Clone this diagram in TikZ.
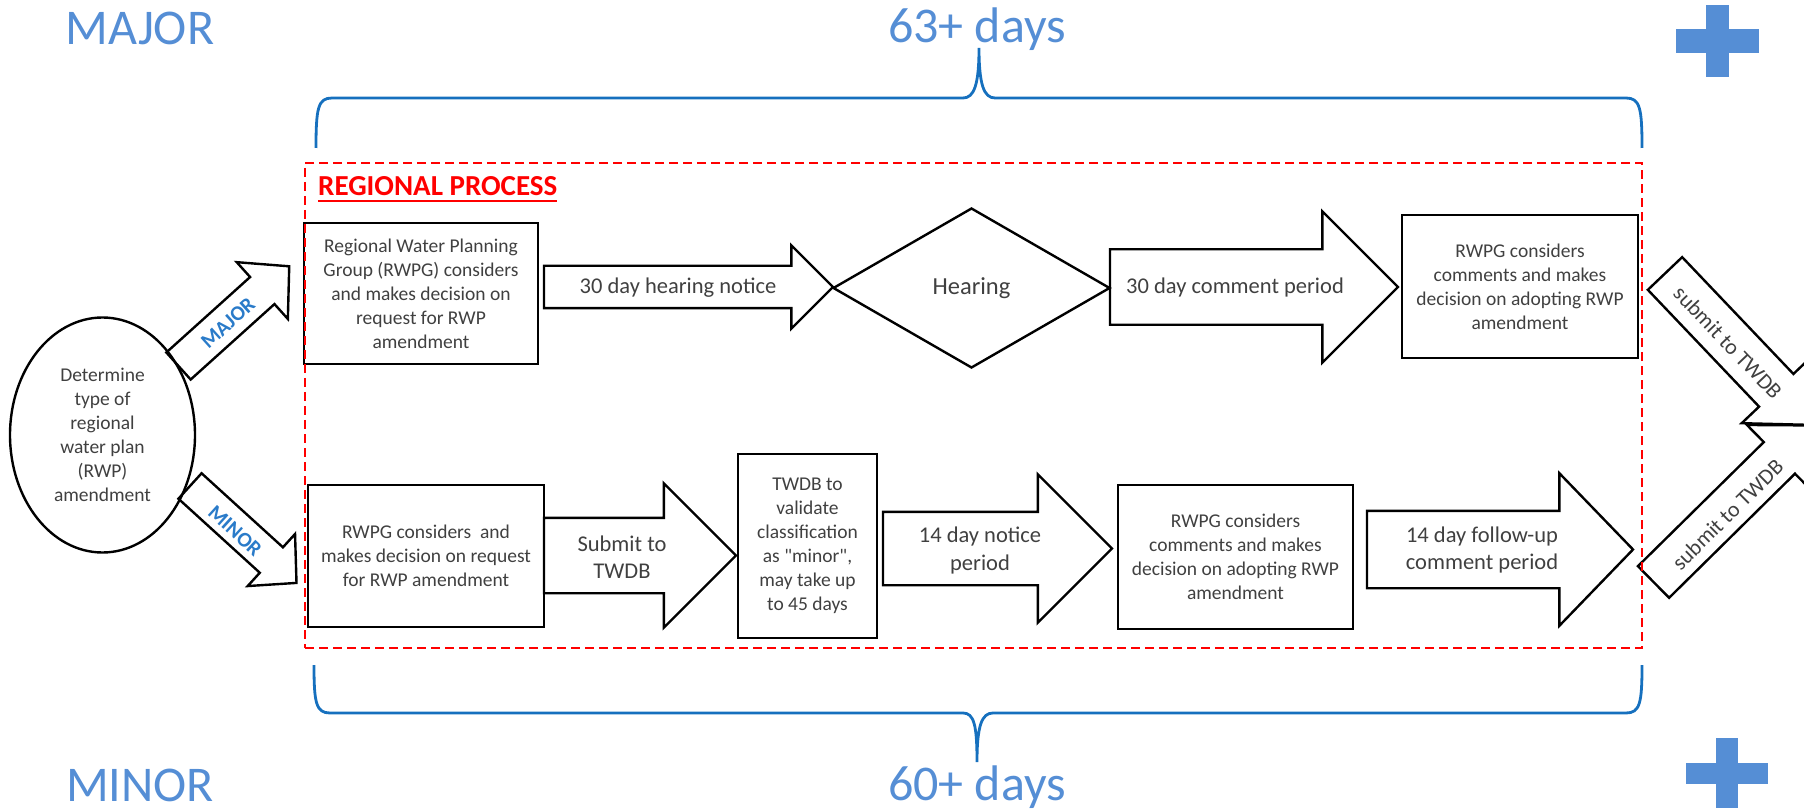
\documentclass[tikz,border=0pt]{standalone}
\usepackage{fontspec}
\setmainfont{Carlito}[Ligatures=TeXOff]
\usetikzlibrary{shapes.geometric,shapes.arrows}
\definecolor{lblue}{HTML}{558ED5}
\definecolor{bblue}{HTML}{1670BE}
\definecolor{tblue}{HTML}{2A7BC9}
\definecolor{txt}{HTML}{404040}
\begin{document}
\begin{tikzpicture}[x=1pt,y=-1pt,
  box/.style={draw=black, line width=2.4pt, inner sep=0pt, align=center, text=txt,
    font=\fontsize{19.5}{24}\selectfont},
  barrow/.style={single arrow, draw=black, line width=2.4pt, inner xsep=0pt, outer sep=0pt,
    minimum width=1pt, single arrow head indent=0pt, anchor=tail},
  atext/.style={align=center, text=txt, font=\fontsize{22.5}{27.5}\selectfont, inner sep=0pt},
  stext/.style={text=txt, font=\fontsize{22}{26}\selectfont, inner sep=0pt},
  mtext/.style={text=tblue, font=\bfseries\fontsize{21}{24}\selectfont, inner sep=0pt},
  big/.style={text=lblue, font=\fontsize{50}{55}\selectfont, inner sep=0pt, anchor=base},
  brace/.style={draw=bblue, line width=2.8pt}
]
\useasboundingbox (0,0) rectangle (1804,810);

% big labels
\node[big] (majl) at (140,45) {MAJOR};
\node[big] (minl) at (140,801) {MINOR};
\node[big] (d63) at (977,43) {63+ days};
\node[big] (d60) at (977,800) {60+ days};

% plus signs
\fill[lblue] (1706,5) rectangle (1729.3,77);
\fill[lblue] (1676,29.3) rectangle (1759,52.7);
\fill[lblue] (1716,738) rectangle (1738,808);
\fill[lblue] (1686,763) rectangle (1768,784);

% braces
\draw[brace] (316,148) .. controls (316,108) and (318,98) .. (332,98) -- (963,98)
  .. controls (974,98) and (979,85) .. (979,48) .. controls (979,85) and (984,98) .. (995,98)
  -- (1626,98) .. controls (1640,98) and (1642,108) .. (1642,148);
\draw[brace] (314,665) .. controls (314,703) and (316,713) .. (330,713) -- (963,713)
  .. controls (974,713) and (977,725) .. (977,762) .. controls (977,725) and (982,713) .. (993,713)
  -- (1626,713) .. controls (1640,713) and (1642,703) .. (1642,665);

% start ellipse
\node[ellipse, draw=black, line width=2.4pt, minimum width=185, minimum height=235, inner sep=0pt,
  align=center, text=txt, font=\fontsize{19.5}{24}\selectfont] (det) at (102.5,435)
  {Determine\\type of\\regional\\water plan\\(RWP)\\amendment};

% branch arrows
\node[barrow, rotate=42, inner ysep=17pt, single arrow head extend=20pt, single arrow tip angle=93,
  minimum height=149] (amaj) at (178.5,366) {};
\node[mtext, rotate=42] (tmaj) at (228,323) {MAJOR};
\node[barrow, rotate=-42.3, inner ysep=16pt, single arrow head extend=18pt, single arrow tip angle=92,
  minimum height=144] (amin) at (190,486) {};
\node[mtext, rotate=-42.3] (tmin) at (235,531) {MINOR};

% major row
\node[box, minimum width=234, minimum height=141] (m1) at (421,293.5)
  {Regional Water Planning\\Group (RWPG) considers\\and makes decision on\\request for RWP\\amendment};
\node[barrow, inner ysep=20pt, single arrow head extend=20.5pt, single arrow tip angle=90,
  minimum height=289] (a1) at (544,287) {};
\node[atext] (t1) at (678,288) {30 day hearing notice};
\node[diamond, draw=black, line width=2.4pt, minimum width=277, minimum height=160, inner sep=0pt,
  text=txt, font=\fontsize{24.5}{28}\selectfont] (hear) at (971.5,288) {Hearing};
\node[barrow, inner ysep=36.5pt, single arrow head extend=38pt, single arrow tip angle=90,
  minimum height=288] (a2) at (1110,287) {};
\node[atext] (t2) at (1235,288) {30 day comment period};
\node[box, minimum width=236, minimum height=143] (m2) at (1520,286.5)
  {RWPG considers\\comments and makes\\decision on adopting RWP\\amendment};

% minor row
\node[box, minimum width=236, minimum height=142] (n1) at (426,556)
  {RWPG considers \ and\\makes decision on request\\for RWP amendment};
\node[barrow, inner ysep=36.5pt, single arrow head extend=34.5pt, single arrow tip angle=90,
  minimum height=192] (a3) at (544,555.5) {};
\node[atext] (t3) at (622,557) {Submit to\\TWDB};
\node[box, minimum width=139, minimum height=184] (n2) at (807.5,546)
  {TWDB to\\validate\\classification\\as "minor",\\may take up\\to 45 days};
\node[barrow, inner ysep=35.5pt, single arrow head extend=37.5pt, single arrow tip angle=90,
  minimum height=229] (a4) at (883,548.5) {};
\node[atext] (t4) at (980,550.5) {14 day notice\\period};
\node[box, minimum width=235, minimum height=144] (n3) at (1235.5,557)
  {RWPG considers\\comments and makes\\decision on adopting RWP\\amendment};
\node[barrow, inner ysep=37.5pt, single arrow head extend=37.5pt, single arrow tip angle=92,
  minimum height=266] (a5) at (1367,549.5) {};
\node[atext] (t5) at (1482,550) {14 day follow-up\\comment period};

% submit arrows
\node[barrow, rotate=-46.4, inner ysep=22.5pt, single arrow head extend=24pt, single arrow tip angle=90,
  minimum height=209] (s1) at (1665,273.5) {};
\node[stext, rotate=-46.4] (ts1) at (1728,342.5) {submit to TWDB};
\node[barrow, rotate=44.6, inner ysep=21pt, single arrow head extend=24pt, single arrow tip angle=90,
  minimum height=223] (s2) at (1653.5,582) {};
\node[stext, rotate=44.6] (ts2) at (1727.5,514.5) {submit to TWDB};

% regional process frame
\node[draw=red, dash pattern=on 9pt off 5pt, line width=2.6pt, minimum width=1337, minimum height=485,
  inner sep=0pt] (region) at (973.5,405.5) {};
\node[anchor=base west, text=red, font=\bfseries\fontsize{29}{32}\selectfont, inner sep=0pt] (rp)
  at (318,196) {REGIONAL PROCESS};
\draw[red, line width=1.8pt] ([yshift=-5pt]rp.base west) -- ([yshift=-5pt]rp.base east);
\end{tikzpicture}
\end{document}
